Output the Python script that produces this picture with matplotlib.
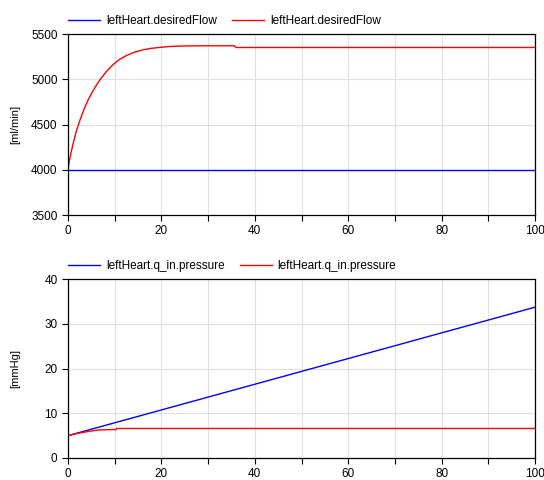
import matplotlib
matplotlib.use("Agg")
import matplotlib.pyplot as plt
from matplotlib.ticker import MultipleLocator

plt.rcParams['font.family'] = ['Liberation Sans', 'DejaVu Sans']
plt.rcParams['font.size'] = 8

# top panel: desired flow [ml/min]
t_flow_blue = [0, 100]
flow_blue = [4000, 4000]
t_flow_red = [0, 0.3, 0.7, 1.2, 1.8, 2.7, 3.6, 4.3, 5, 5.9, 6.8, 8.2, 9.7, 11, 12.5, 14.2,
              16.1, 17.9, 19.7, 21.5, 23.7, 27, 30, 35.5, 36, 100]
flow_red = [4000, 4100, 4200, 4310, 4430, 4570, 4690, 4770, 4840, 4920, 4990, 5085, 5165, 5218,
            5262, 5298, 5326, 5342, 5352, 5361, 5366, 5369, 5370, 5370, 5351, 5351]
flow_labels = ['leftHeart.desiredFlow', 'leftHeart.desiredFlow']

# bottom panel: inflow pressure [mmHg]
t_p_blue = [0, 100]
p_blue = [5.0, 33.7]
t_p_red = [0, 2, 4.7, 7, 10.3, 10.4, 100]
p_red = [5.0, 5.5, 6.0, 6.3, 6.35, 6.6, 6.6]
p_labels = ['leftHeart.q_in.pressure', 'leftHeart.q_in.pressure']


def style_axes(ax, ylim, ystep, ylabel):
    ax.set_xlim(0, 100)
    ax.set_ylim(*ylim)
    ax.xaxis.set_major_locator(MultipleLocator(20))
    ax.xaxis.set_minor_locator(MultipleLocator(10))
    ax.yaxis.set_major_locator(MultipleLocator(ystep))
    ax.grid(True, which='both', color='#e0e0e0', linewidth=0.8)
    ax.set_axisbelow(True)
    ax.tick_params(which='both', direction='out', length=4, width=0.8, labelsize=8.5)
    ax.tick_params(axis='y', which='minor', length=0)
    for s in ax.spines.values():
        s.set_linewidth(0.9)
    ax.set_ylabel(ylabel, fontsize=8)
    ax.yaxis.set_label_coords(-48 / 467, 0.5)


fig = plt.figure(figsize=(5.44, 4.8), dpi=100)
ax1 = fig.add_axes([68 / 544, 1 - 215 / 480, 467 / 544, 181 / 480])
ax2 = fig.add_axes([68 / 544, 1 - 458 / 480, 467 / 544, 179 / 480])

ax1.plot(t_flow_blue, flow_blue, color='#0000ff', linewidth=1, label=flow_labels[0])
ax1.plot(t_flow_red, flow_red, color='#ff0000', linewidth=1, label=flow_labels[1])
style_axes(ax1, (3500, 5500), 500, '[ml/min]')

ax2.plot(t_p_blue, p_blue, color='#0000ff', linewidth=1, label=p_labels[0])
ax2.plot(t_p_red, p_red, color='#ff0000', linewidth=1, label=p_labels[1])
style_axes(ax2, (0, 40), 10, '[mmHg]')

for ax in (ax1, ax2):
    ax.legend(loc='lower left', bbox_to_anchor=(-0.015, 1.0), ncol=2, frameon=False,
              fontsize=8.5, handlelength=2.7, handletextpad=0.5, columnspacing=1.3,
              borderaxespad=0.2)

fig.savefig('out.png', dpi=100)
